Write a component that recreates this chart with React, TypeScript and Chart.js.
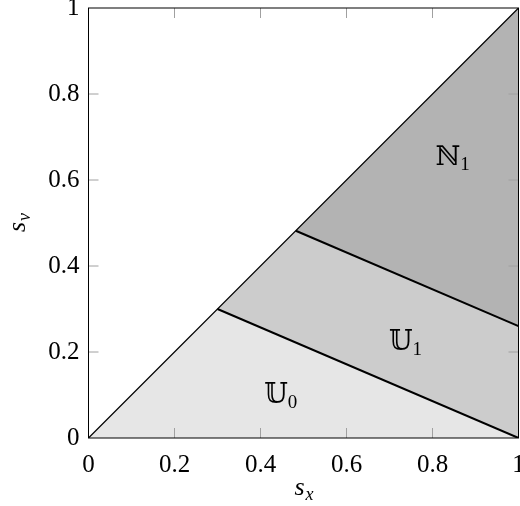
import React, { useEffect, useRef } from "react";
import { Chart, registerables } from "chart.js";

Chart.register(...registerables);

// axis ticks
const tickValues = [0, 0.2, 0.4, 0.6, 0.8, 1];
const tickLabels = ["0", "0.2", "0.4", "0.6", "0.8", "1"];

// diagonal s_v = s_x
const diagX = [0, 1];
const diagY = [0, 1];
// boundary between U0 and U1
const bound0X = [0.3, 1];
const bound0Y = [0.3, 0];
// boundary between U1 and N1
const bound1X = [0.482, 1];
const bound1Y = [0.482, 0.26];

// region outlines (upper edges)
const u0X = [0, 0.3, 1];
const u0Y = [0, 0.3, 0];
const u1X = [0.3, 0.482, 1];
const u1Y = [0.3, 0.482, 0.26];
const n1X = [0.482, 1];
const n1Y = [0.482, 1];

// region labels
const regionLetters = ["𝕌", "𝕌", "ℕ"];
const regionSubs = ["0", "1", "1"];
const regionLabelX = [0.447, 0.737, 0.847];
const regionLabelY = [0.098, 0.22, 0.652];

const pts = (xs: number[], ys: number[]) => xs.map((x, i) => ({ x, y: ys[i] }));

const SERIF = "'Liberation Serif', 'DejaVu Serif', serif";
const DS = "'DejaVu Serif', 'DejaVu Sans', serif";

const overlayPlugin = {
  id: "overlay",
  afterDatasetsDraw(chart: any) {
    const { ctx, chartArea: a, scales } = chart;
    const xs = scales.x;
    const ys = scales.y;
    ctx.save();
    // inner tick marks
    ctx.strokeStyle = "#a0a0a0";
    ctx.lineWidth = 1;
    const L = 10;
    tickValues.forEach((v) => {
      if (v === 0 || v === 1) return;
      const px = xs.getPixelForValue(v);
      const py = ys.getPixelForValue(v);
      ctx.beginPath();
      ctx.moveTo(px, a.bottom);
      ctx.lineTo(px, a.bottom - L);
      ctx.moveTo(px, a.top);
      ctx.lineTo(px, a.top + L);
      ctx.moveTo(a.left, py);
      ctx.lineTo(a.left + L, py);
      ctx.moveTo(a.right, py);
      ctx.lineTo(a.right - L, py);
      ctx.stroke();
    });
    // frame
    ctx.strokeStyle = "#000";
    ctx.lineWidth = 1;
    ctx.strokeRect(a.left, a.top, a.right - a.left, a.bottom - a.top);

    // region labels
    ctx.fillStyle = "#000";
    ctx.textBaseline = "middle";
    regionLetters.forEach((t, i) => {
      const cx = xs.getPixelForValue(regionLabelX[i]);
      const cy = ys.getPixelForValue(regionLabelY[i]);
      ctx.font = "27px " + DS;
      const w1 = ctx.measureText(t).width;
      ctx.font = "19px " + SERIF;
      const w2 = ctx.measureText(regionSubs[i]).width;
      const x0 = cx - (w1 + w2) / 2;
      ctx.font = "27px " + DS;
      ctx.textAlign = "left";
      ctx.fillText(t, x0, cy);
      ctx.font = "19px " + SERIF;
      ctx.fillText(regionSubs[i], x0 + w1, cy + 7);
    });

    // axis titles
    const drawSub = (main: string, sub: string) => {
      ctx.font = "italic 26px " + SERIF;
      const w1 = ctx.measureText(main).width;
      ctx.font = "italic 18px " + SERIF;
      const w2 = ctx.measureText(sub).width;
      const x0 = -(w1 + w2) / 2;
      ctx.textAlign = "left";
      ctx.textBaseline = "alphabetic";
      ctx.font = "italic 26px " + SERIF;
      ctx.fillText(main, x0, 0);
      ctx.font = "italic 18px " + SERIF;
      ctx.fillText(sub, x0 + w1 + 1, 5);
    };
    ctx.save();
    ctx.translate((a.left + a.right) / 2, 495);
    drawSub("s", "x");
    ctx.restore();
    ctx.save();
    ctx.translate(25, (a.top + a.bottom) / 2);
    ctx.rotate(-Math.PI / 2);
    drawSub("s", "v");
    ctx.restore();
    ctx.restore();
  },
};

export default function App() {
  const ref = useRef<HTMLCanvasElement>(null);
  useEffect(() => {
    if (!ref.current) return;
    const lineDs = (xs: number[], ys: number[], w: number) => ({
      data: pts(xs, ys),
      showLine: true,
      borderColor: "#000",
      borderWidth: w,
      pointRadius: 0,
      fill: false,
    });
    const fillDs = (xs: number[], ys: number[], color: string, fill: any) => ({
      data: pts(xs, ys),
      showLine: true,
      borderWidth: 0,
      borderColor: "rgba(0,0,0,0)",
      backgroundColor: color,
      pointRadius: 0,
      fill,
    });
    const chart = new Chart(ref.current, {
      type: "scatter",
      data: {
        datasets: [
          lineDs(diagX, diagY, 1.2) as any,
          lineDs(bound0X, bound0Y, 2) as any,
          lineDs(bound1X, bound1Y, 2) as any,
          fillDs(u0X, u0Y, "#e6e6e6", "origin") as any,
          fillDs(u1X, u1Y, "#cccccc", 3) as any,
          fillDs(n1X, n1Y, "#b3b3b3", 4) as any,
        ],
      },
      options: {
        responsive: false,
        animation: false,
        events: [],
        layout: { padding: { top: 8, right: 1.5, left: 0, bottom: 0 } },
        plugins: { legend: { display: false }, tooltip: { enabled: false } },
        scales: {
          x: {
            type: "linear",
            min: 0,
            max: 1,
            grid: { display: false, drawTicks: false },
            border: { display: false },
            afterBuildTicks: (s: any) => {
              s.ticks = tickValues.map((v) => ({ value: v }));
            },
            afterFit: (s: any) => {
              s.height = 68;
              s.paddingLeft = 0;
              s.paddingRight = 0;
            },
            ticks: {
              padding: 12,
              color: "#000",
              font: { family: SERIF, size: 25 },
              callback: (_v: any, i: number) => tickLabels[i],
              maxRotation: 0,
              autoSkip: false,
            },
          },
          y: {
            type: "linear",
            min: 0,
            max: 1,
            grid: { display: false, drawTicks: false },
            border: { display: false },
            afterBuildTicks: (s: any) => {
              s.ticks = tickValues.map((v) => ({ value: v }));
            },
            afterFit: (s: any) => {
              s.width = 88.5;
              s.paddingTop = 0;
              s.paddingBottom = 0;
            },
            ticks: {
              padding: 9,
              color: "#000",
              font: { family: SERIF, size: 25 },
              callback: (_v: any, i: number) => tickLabels[i],
              autoSkip: false,
            },
          },
        },
      },
      plugins: [overlayPlugin],
    });
    return () => chart.destroy();
  }, []);
  return (
    <div style={{ position: "absolute", left: 0, top: 0, width: 520, height: 506, background: "#fff" }}>
      <canvas ref={ref} width={520} height={506} />
    </div>
  );
}
